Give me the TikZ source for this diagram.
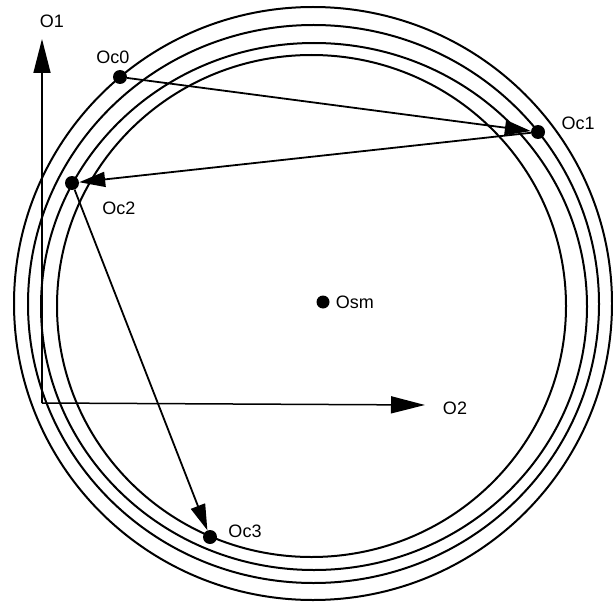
\documentclass[tikz,border=0pt]{standalone}
\usepackage{fontspec}
\setmainfont{Liberation Sans}
\usetikzlibrary{arrows.meta,positioning}

\begin{document}
\begin{tikzpicture}[x=1pt,y=-1pt,
    ring/.style={line width=2pt},
    pt/.style={circle,fill=black,inner sep=0pt,minimum size=14pt},
    lbl/.style={font=\fontsize{18}{21}\selectfont,inner sep=1pt},
    axis/.style={line width=1.5pt,-{Triangle[length=34pt,width=17pt]}},
    hop/.style={line width=1.8pt,-{Triangle[length=26pt,width=15pt]}}]
    \useasboundingbox (0,0) rectangle (613,607);

    % the four rings
    \foreach \cx/\cy/\rx/\ry in {313/303.5/299/296.5,313.5/304/285.5/279,314/306.5/273/263.5,311.5/306/254.5/251} {
      \draw[ring] (\cx,\cy) ellipse [x radius=\rx, y radius=\ry];
    }

    % axes
    \coordinate (orig) at (42,403);
    \coordinate (o1tip) at (42,39);
    \coordinate (o2tip) at (425,405);
    \draw[axis] (orig) -- (o1tip);
    \draw[axis] (orig) -- (o2tip);
    \node[lbl] (o1) at (52,21) {O1};
    \node[lbl] (o2) at (455,408) {O2};

    % centre
    \node[pt,minimum size=13pt] (osm) at (323,302) {};
    \node[lbl,right=5pt of osm] (osmlbl) {Osm};

    % contact points
    \node[pt] (oc0) at (120,77) {};
    \node[pt] (oc1) at (538,132) {};
    \node[pt] (oc2) at (72,183) {};
    \node[pt] (oc3) at (210,537) {};
    \node[lbl] (oc0lbl) at (113,57) {Oc0};
    \node[lbl] (oc1lbl) at (578,123) {Oc1};
    \node[lbl] (oc2lbl) at (119,208) {Oc2};
    \node[lbl] (oc3lbl) at (245,531) {Oc3};

    \draw[hop] (oc0) -- (oc1);
    \draw[hop] (oc1) -- (oc2);
    \draw[hop] (oc2) -- (oc3);
\end{tikzpicture}
\end{document}
